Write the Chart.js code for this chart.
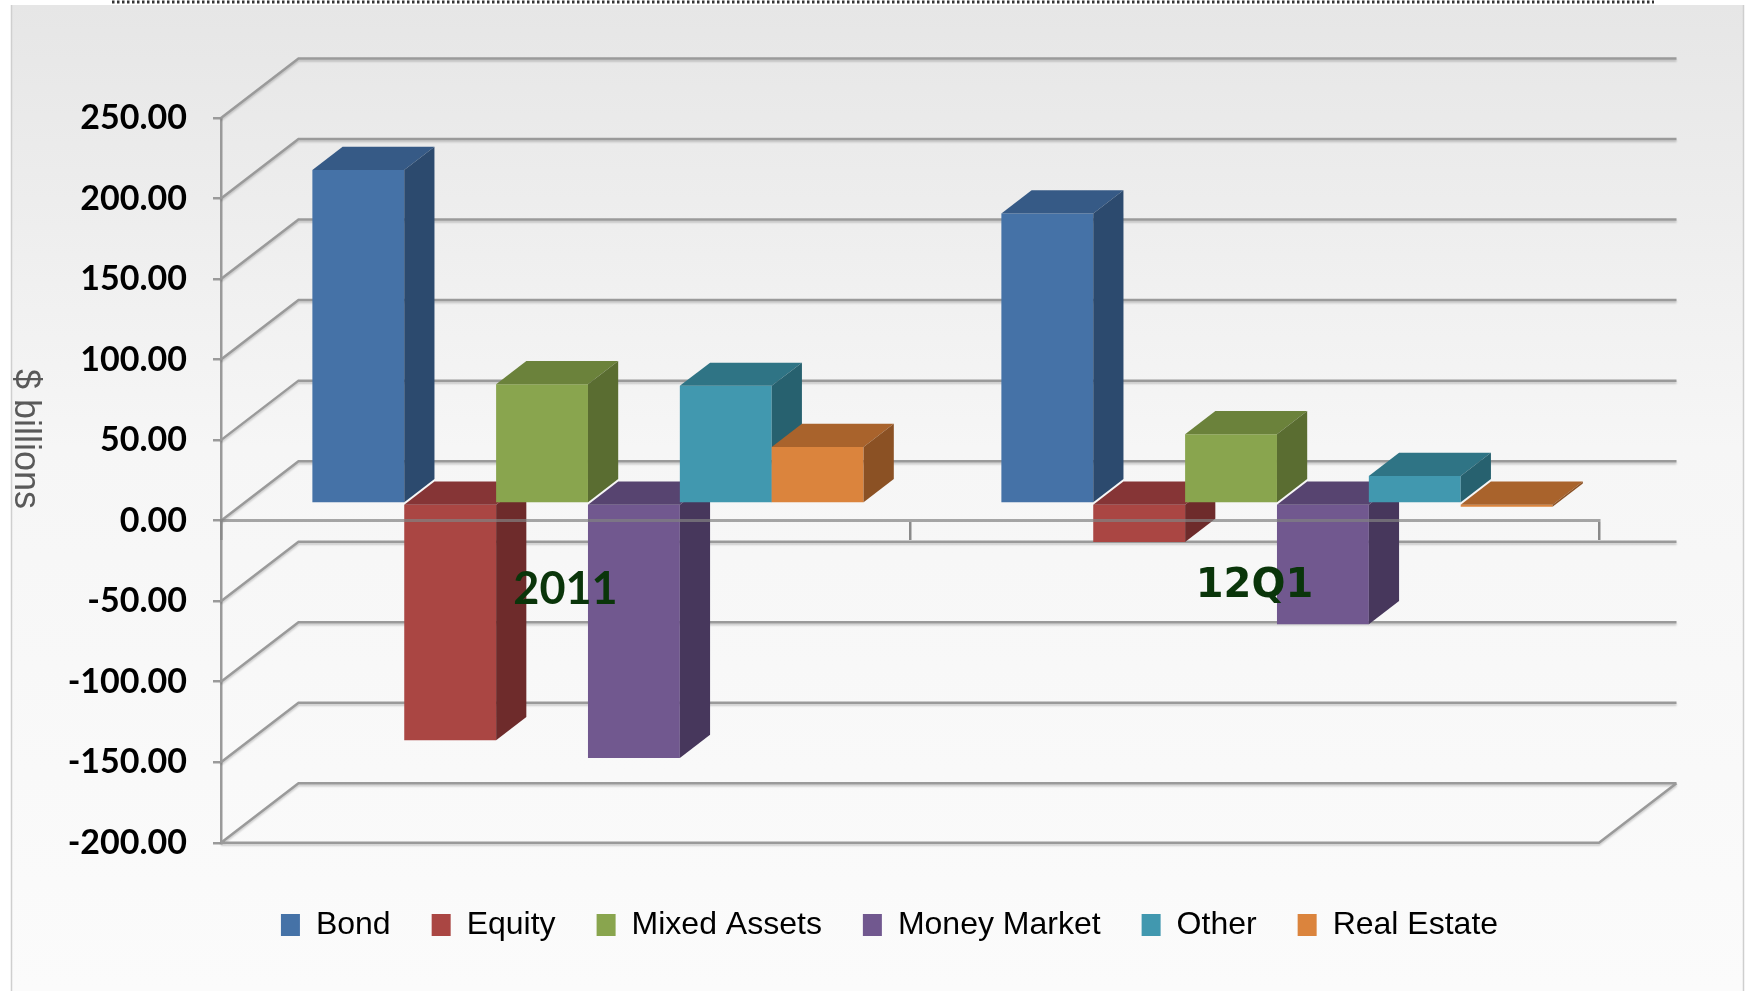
<!DOCTYPE html>
<html lang="en">
<head>
<meta charset="UTF-8">
<title>Net flows by asset class</title>
<script src="https://cdn.jsdelivr.net/npm/chart.js@4.4.1/dist/chart.umd.min.js"></script>
<style>
    html, body { margin: 0; padding: 0; background: #fff; }
    canvas { display: block; }
</style>
</head>
<body>
<canvas id="flowChart" width="1748" height="991"></canvas>

<script>
    // data ($ billions)
    const categories = ['2011', '12Q1'];
    const seriesNames = ['Bond', 'Equity', 'Mixed Assets', 'Money Market', 'Other', 'Real Estate'];
    const bond = [207, 180];
    const equity = [-147, -24];
    const mixedAssets = [74, 43];
    const moneyMarket = [-158, -75];
    const other = [73, 17];
    const realEstate = [35, -2];
    const yTicks = [250, 200, 150, 100, 50, 0, -50, -100, -150, -200];

    // look
    const frontColors = ['#4572A7', '#AA4643', '#89A54E', '#71588F', '#4198AF', '#DB843D'];
    const topColors = ['#365a86', '#863536', '#6b823b', '#574470', '#2f7485', '#a9632c'];
    const sideColors = ['#2c4a6e', '#6e2b2b', '#5a6d31', '#47375c', '#27616f', '#8b5124'];
    const WALL_DX = 77.5, WALL_DY = -59.5;   // depth of the back wall
    const BAR_FRONT = 0.29, BAR_DEPTH = 0.39; // bar position inside that depth
    const GRID = '#9a9a9a';

    function shade(ctx, pts, color) {
        ctx.beginPath();
        ctx.moveTo(pts[0][0], pts[0][1]);
        for (let k = 1; k < pts.length; k++) ctx.lineTo(pts[k][0], pts[k][1]);
        ctx.closePath();
        ctx.fillStyle = color;
        ctx.fill();
    }

    const box3d = {
        id: 'box3d',
        afterLayout(chart) {
            // let the y labels spill left of the narrow axis box
            chart.scales.y.left = 0;
        },
        beforeDraw(chart) {
            const ctx = chart.ctx;
            ctx.save();
            ctx.fillStyle = '#ffffff';
            ctx.fillRect(0, 0, chart.width, chart.height);
            const g = ctx.createLinearGradient(0, 5, 0, chart.height);
            g.addColorStop(0, '#e6e6e6');
            g.addColorStop(0.45, '#f6f6f6');
            g.addColorStop(1, '#fbfbfb');
            ctx.fillStyle = g;
            ctx.fillRect(11, 5, 1733, chart.height - 5);
            ctx.strokeStyle = '#cfcfcf';
            ctx.lineWidth = 1.5;
            ctx.beginPath();
            ctx.moveTo(11.5, 5); ctx.lineTo(11.5, chart.height);
            ctx.moveTo(1743.5, 5); ctx.lineTo(1743.5, chart.height);
            ctx.stroke();
            // dotted rule above the panel
            ctx.strokeStyle = '#333';
            ctx.lineWidth = 3;
            ctx.setLineDash([2.5, 2.5]);
            ctx.beginPath();
            ctx.moveTo(112, 2); ctx.lineTo(1654, 2);
            ctx.stroke();
            ctx.restore();
        },
        beforeDatasetsDraw(chart) {
            // back wall, side wall and floor
            const ctx = chart.ctx;
            const ys = chart.scales.y;
            const L = chart.chartArea.left, R = chart.chartArea.right;
            ctx.save();
            ctx.strokeStyle = GRID;
            ctx.lineWidth = 2.5;
            ctx.shadowColor = 'rgba(0,0,0,0.18)';
            ctx.shadowOffsetY = 2;
            ctx.shadowBlur = 2;
            ctx.beginPath();
            yTicks.forEach(v => {
                const py = ys.getPixelForValue(v);
                ctx.moveTo(L, py);
                ctx.lineTo(L + WALL_DX, py + WALL_DY);
                ctx.lineTo(R + WALL_DX, py + WALL_DY);
            });
            const yb = ys.getPixelForValue(ys.min);
            ctx.moveTo(L, yb);
            ctx.lineTo(R, yb);
            ctx.lineTo(R + WALL_DX, yb + WALL_DY);
            ctx.stroke();
            ctx.restore();
        },
        beforeDatasetDraw() {
            return false; // bars are painted below, left to right
        },
        afterDatasetsDraw(chart) {
            const ctx = chart.ctx;
            const dx = WALL_DX * BAR_DEPTH, dy = WALL_DY * BAR_DEPTH;
            ctx.save();
            ctx.translate(WALL_DX * BAR_FRONT, WALL_DY * BAR_FRONT);
            for (let j = 0; j < categories.length; j++) {
                for (let i = 0; i < chart.data.datasets.length; i++) {
                    const bar = chart.getDatasetMeta(i).data[j];
                    const {x, y, base, width} = bar.getProps(['x', 'y', 'base', 'width'], true);
                    const l = x - width / 2, r = x + width / 2;
                    const t = Math.min(y, base), b = Math.max(y, base);
                    bar.draw(ctx);
                    shade(ctx, [[l, t], [r, t], [r + dx, t + dy], [l + dx, t + dy]], topColors[i]);
                    shade(ctx, [[r, t], [r, b], [r + dx, b + dy], [r + dx, t + dy]], sideColors[i]);
                }
            }
            ctx.restore();
        },
        afterDraw(chart) {
            const ctx = chart.ctx;
            ctx.save();
            ctx.translate(25, 439);
            ctx.rotate(Math.PI / 2);
            ctx.font = '36px "Liberation Sans", Arial, sans-serif';
            ctx.fillStyle = '#595959';
            ctx.textAlign = 'center';
            ctx.textBaseline = 'middle';
            ctx.fillText('$ billions', 0, 0);
            ctx.restore();
        }
    };

    const seriesValues = [bond, equity, mixedAssets, moneyMarket, other, realEstate];

    const ctx = document.getElementById('flowChart').getContext('2d');
    const flowChart = new Chart(ctx, {
        type: 'bar',
        data: {
            labels: categories,
            datasets: seriesNames.map((name, i) => ({
                label: name,
                data: seriesValues[i],
                backgroundColor: frontColors[i],
                borderWidth: 0,
                categoryPercentage: 0.8,
                barPercentage: 1.0
            }))
        },
        plugins: [box3d],
        options: {
            responsive: false,
            animation: false,
            layout: {
                padding: { left: 180, right: 149, top: 118, bottom: 40 }
            },
            plugins: {
                tooltip: { enabled: false },
                legend: {
                    position: 'bottom',
                    title: { display: true, text: '', font: { size: 1 }, padding: { top: 24, bottom: 0 } },
                    labels: {
                        boxWidth: 19,
                        boxHeight: 22,
                        padding: 41,
                        color: '#000',
                        font: { family: '"Liberation Sans", Arial, sans-serif', size: 32 }
                    }
                }
            },
            scales: {
                x: {
                    position: { y: 0 },
                    offset: true,
                    grid: {
                        z: 1,
                        drawOnChartArea: false,
                        drawTicks: true,
                        tickLength: 18,
                        color: '#8a8a8a',
                        lineWidth: 2.5,
                        offset: true
                    },
                    border: { z: 1, display: true, color: 'rgba(130,130,130,0.7)', width: 3 },
                    ticks: {
                        z: 1,
                        padding: 24,
                        color: '#0a350a',
                        font: (c) => c.index === 0
                            ? { family: 'Lato', size: 45, weight: 'bold' }
                            : { family: '"DejaVu Sans"', size: 40, weight: 'bold' }
                    }
                },
                y: {
                    min: Math.min(...yTicks),
                    max: Math.max(...yTicks),
                    afterFit(scale) { scale.width = 41; },
                    afterBuildTicks(scale) { scale.ticks = yTicks.map(v => ({ value: v })); },
                    grid: {
                        drawOnChartArea: false,
                        drawTicks: true,
                        tickLength: 8,
                        color: GRID,
                        lineWidth: 2.5
                    },
                    border: { display: true, color: GRID, width: 2.5 },
                    ticks: {
                        padding: 26,
                        color: '#000',
                        font: { family: 'Lato', size: 34, weight: 'bold' },
                        callback: (v) => Number(v).toFixed(2)
                    }
                }
            }
        }
    });
</script>
</body>
</html>
